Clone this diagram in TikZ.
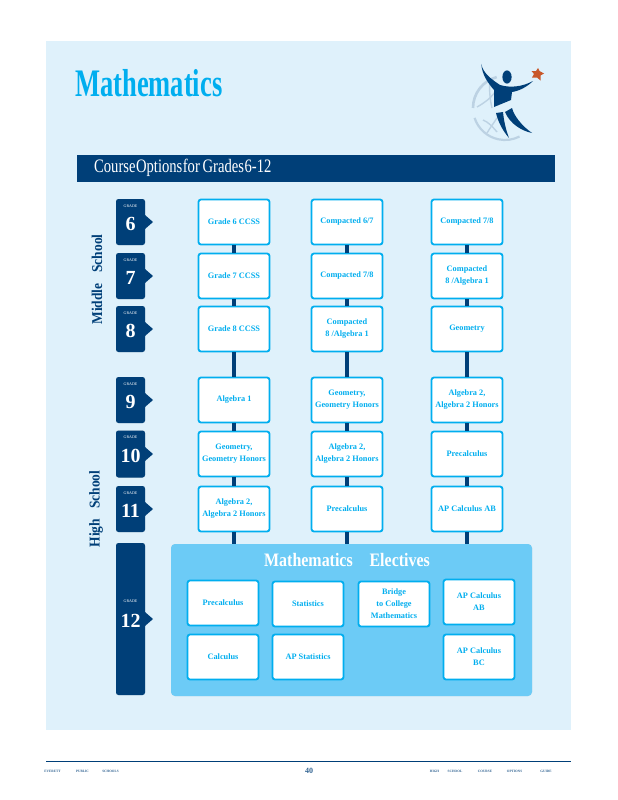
\documentclass[tikz,border=0pt]{standalone}
\usepackage{fontspec}
\setmainfont{Liberation Serif}
\usetikzlibrary{shadows}
\definecolor{panelblue}{HTML}{DFF1FB}
\definecolor{navy}{HTML}{003F78}
\definecolor{cyanline}{HTML}{00AEEF}
\definecolor{skyblue}{HTML}{6CCBF6}
\definecolor{globegray}{HTML}{BCD2E3}
\definecolor{starorange}{HTML}{C8582A}
\tikzset{
coursebox/.style={draw=cyanline, line width=1.8pt, fill=white, rounded corners=2.5pt,
  minimum width=71pt, minimum height=45pt, inner sep=0pt, align=center,
  text=cyanline, font=\bfseries\fontsize{8.3}{12}\selectfont,
  drop shadow={shadow xshift=0pt, shadow yshift=0pt, opacity=.25, fill=black!60}},
gradetab/.style={fill=navy, rounded corners=2.5pt, minimum width=29pt, inner sep=0pt,
  drop shadow={shadow xshift=0pt, shadow yshift=0pt, opacity=.25, fill=black!60}},
gradeword/.style={text=white, font=\fontsize{4}{4}\selectfont, inner sep=0pt},
gradenum/.style={text=white, font=\bfseries\fontsize{20}{20}\selectfont, inner sep=0pt},
sidelabel/.style={rotate=90, text=navy, font=\bfseries\fontsize{15}{15}\selectfont, inner sep=0pt, transform shape, xscale=.9},
footword/.style={text=navy!80, font=\bfseries\fontsize{3.4}{3.4}\selectfont, inner sep=0pt},
link/.style={draw=navy, line width=4.5pt}
}
\begin{document}
\begin{tikzpicture}[x=1pt, y=-1pt]
\useasboundingbox (0,0) rectangle (618,800);
\fill[white] (0,0) rectangle (618,800);
\fill[panelblue] (46,41) rectangle (571,730);
% title and bar
\node[anchor=west, text=cyanline, font=\bfseries\fontsize{39}{39}\selectfont, inner sep=0pt, transform shape, xscale=.68] (title) at (75,83) {Mathematics};
\fill[navy] (77,155) rectangle (555,182);
\node[anchor=west, text=white, font=\fontsize{19}{19}\selectfont, inner sep=0pt, transform shape, xscale=.77] (bartext) at (94,168) {\spaceskip=.6pt Course Options for\hspace{3pt} Grades 6-12};
% logo
\draw[globegray, line width=2.6pt] (505,108) ++(180:32) arc (180:255:32);
\draw[globegray, line width=2.2pt] (505,108) ++(162:32) arc (162:63:32);
\draw[globegray, line width=1.4pt] (477,107) .. controls (484,103) and (490,99) .. (495,92);
\draw[globegray, line width=1.4pt] (490,80) .. controls (489,90) and (490,100) .. (492,108);
\draw[globegray, line width=1.4pt] (483,120) .. controls (488,122) and (492,126) .. (497,132);
\draw[globegray, line width=1.4pt] (497,118) .. controls (493,124) and (490,128) .. (487,133);
\fill[navy] (481.3,64) .. controls (483,73) and (491,79) .. (500,85) .. controls (510,88) and (522,87) .. (533,81)
 .. controls (527,87) and (519,91) .. (512,92) -- (511,100) -- (494,107) -- (494,90) .. controls (487,82) and (482,74) .. (481.3,64) -- cycle;
\fill[navy] (507,77) ellipse (4.6 and 6.6);
\fill[navy] (496,113) -- (503,112) .. controls (504,122) and (506,130) .. (509,138) .. controls (503,131) and (498,122) .. (496,113) -- cycle;
\fill[navy] (505,112) -- (512,108) .. controls (514,116) and (522,126) .. (532,133) .. controls (522,131) and (510,124) .. (505,112) -- cycle;
\fill[starorange] (538,68) -- (539.5,71) -- (544,73.5) -- (540.5,75.5) -- (540.5,80.5) -- (537,77.5) -- (532,77.5) -- (534,74) -- (531.5,71) -- (536,71) -- cycle;
% course boxes
\foreach \name/\x/\y/\txt in {
a6/234/222/Grade 6 CCSS, b6/347/222/{Compacted 6/7}, c6/467/222/{Compacted 7/8},
a7/234/276/Grade 7 CCSS, b7/347/276/{Compacted 7/8}, c7/467/276/{Compacted\\8 /Algebra 1},
a8/234/329/Grade 8 CCSS, b8/347/329/{Compacted\\8 /Algebra 1}, c8/467/329/Geometry,
a9/234/400/Algebra 1, b9/347/400/{Geometry,\\Geometry Honors}, c9/467/400/{Algebra 2,\\Algebra 2 Honors},
a10/234/454/{Geometry,\\Geometry Honors}, b10/347/454/{Algebra 2,\\Algebra 2 Honors}, c10/467/454/Precalculus,
a11/234/509/{Algebra 2,\\Algebra 2 Honors}, b11/347/509/Precalculus, c11/467/509/AP Calculus AB}
  \node[coursebox] (\name) at (\x,\y) {\txt};
% electives panel
\node[fill=skyblue, rounded corners=4pt, minimum width=361pt, minimum height=152pt, inner sep=0pt,
  drop shadow={shadow xshift=0pt, shadow yshift=0pt, opacity=.2, fill=black!60}] (electives) at (351.5,620) {};
\node[text=white, font=\bfseries\fontsize{19}{19}\selectfont, inner sep=0pt, transform shape, xscale=.84] (electitle) at (347,560) {Mathematics\hspace{20pt}Electives};
\foreach \p in {a,b,c}
  \foreach \u/\v in {6/7,7/8,8/9,9/10,10/11}
    \draw[link] (\p\u) -- (\p\v);
\draw[link] (a11) -- (a11 |- electives.north);
\draw[link] (b11) -- (b11 |- electives.north);
\draw[link] (c11) -- (c11 |- electives.north);
\foreach \name/\x/\y/\txt in {
e1/223/603/Precalculus, e2/308/604/Statistics, e3/394/604/{Bridge\\to College\\Mathematics}, e4/479/602/{AP Calculus\\AB},
e5/223/657/Calculus, e6/308/657/AP Statistics, e7/479/657/{AP Calculus\\BC}}
  \node[coursebox] (\name) at (\x,\y) {\txt};
% grade tabs
\foreach \g/\y/\h in {6/222/46, 7/276/46, 8/329/46, 9/400/46, 10/454/47, 11/509/46, 12/619/152}{
  \fill[navy] (145,\y-7) -- (153,\y) -- (145,\y+7) -- cycle;
  \node[gradetab, minimum height=\h pt] (tab\g) at (130.5,\y) {};
}
\foreach \g in {6,7,8,9,10,11}{
  \node[gradeword, yshift=-7pt] (word\g) at (tab\g.north) {GRADE};
  \node[gradenum, yshift=-2pt] (num\g) at (tab\g.center) {\g};
}
\node[gradeword] (word12) at (130.5,601) {GRADE};
\node[gradenum] (num12) at (130.5,621) {12};
% side labels
\node[sidelabel] (middle) at (97,279.5) {Middle\hspace{12pt}School};
\node[sidelabel] (high) at (96,509) {High\hspace{11pt}School};
% footer
\draw[navy, line width=1pt] (46,761) coordinate (footl) -- (571,761) coordinate (footr);
\foreach \x/\txt in {52.5/EVERETT, 82.5/PUBLIC, 110.5/SCHOOLS, 434.5/HIGH, 455/SCHOOL, 485/COURSE, 514.5/OPTIONS, 546/GUIDE}
  \node[footword] (foot\txt) at (\x,771) {\txt};
\node[text=navy!80, font=\bfseries\fontsize{8}{8}\selectfont, inner sep=0pt] (pagenum) at (309,771) {40};
\end{tikzpicture}
\end{document}
